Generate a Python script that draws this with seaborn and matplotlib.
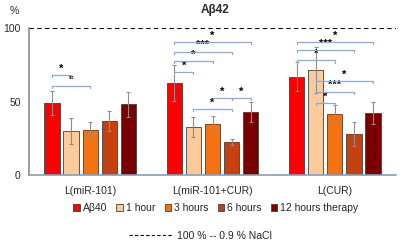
import numpy as np
import pandas as pd
import seaborn as sns
import matplotlib.pyplot as plt
from matplotlib.lines import Line2D
from matplotlib.patches import Patch

# data
groups = ["L(miR-101)", "L(miR-101+CUR)", "L(CUR)"]
series = ["Aβ40", "1 hour", "3 hours", "6 hours", "12 hours therapy"]
colors = ["#FF0000", "#FBCB9B", "#F57213", "#C6410F", "#7A0000"]

abeta40 = [49, 62.6, 67]
hour1 = [30, 32.6, 71.4]
hour3 = [30.6, 35, 41.5]
hour6 = [36.7, 22.4, 28]
hour12 = [48, 43, 42.4]

err_abeta40 = [8, 12.4, 9.7]
err_hour1 = [9, 7, 15.6]
err_hour3 = [5.5, 5, 6]
err_hour6 = [7, 2.3, 8]
err_hour12 = [8.7, 7, 7.6]

# significance brackets: (group, bar a, bar b, height, label)
sig = [
    (0, 0, 1, 68, "*"), (0, 0, 2, 60.7, "*"),
    (1, 0, 4, 90.7, "*"), (1, 0, 3, 84, "***"), (1, 0, 2, 77.8, "*"),
    (1, 0, 1, 70.3, "*"), (1, 2, 3, 52.6, "*"), (1, 3, 4, 52.6, "*"),
    (1, 1, 3, 45, "*"),
    (2, 0, 4, 90.7, "*"), (2, 0, 3, 85, "***"), (2, 0, 2, 78, "*"),
    (2, 1, 4, 64, "*"), (2, 1, 3, 56.7, "***"), (2, 1, 2, 49, "*"),
]

vals = [abeta40, hour1, hour3, hour6, hour12]
errs = [err_abeta40, err_hour1, err_hour3, err_hour6, err_hour12]

rows = []
for s, v in zip(series, vals):
    for g, x in zip(groups, v):
        rows.append({"group": g, "series": s, "value": x})
df = pd.DataFrame(rows)

sns.set_style("white")
plt.rcParams["font.family"] = ["Liberation Sans", "DejaVu Sans"]

fig = plt.figure(figsize=(4, 2.44), dpi=100)
ax = fig.add_axes([0.0725, 0.283, 0.9175, 0.602])

sns.barplot(data=df, x="group", y="value", hue="series", palette=colors,
            saturation=1, width=0.78, gap=0.2, edgecolor="#404040",
            linewidth=0.6, legend=False, ax=ax)

# error bars
centers = []
for cont, e in zip(ax.containers, errs):
    xs = [p.get_x() + p.get_width() / 2 for p in cont.patches]
    hs = [p.get_height() for p in cont.patches]
    centers.append(xs)
    ax.errorbar(xs, hs, yerr=e, fmt="none", ecolor="#8c8c8c",
                elinewidth=0.8, capsize=1.5, capthick=0.8, zorder=3)

# significance brackets
bc = "#8EA9D6"
for g, a, b, h, lab in sig:
    x1 = centers[a][g]
    x2 = centers[b][g]
    ax.plot([x1, x1, x2, x2], [h - 1.5, h, h, h - 1.5], color=bc, lw=0.9,
            zorder=4)
    ax.text((x1 + x2) / 2, h + 0.9, lab, ha="center", va="bottom",
            fontsize=8, fontweight="bold", color="black")

ax.axhline(100, color="black", ls=(0, (4, 3)), lw=0.8)
ax.set_xlim(-0.5, 2.5)
ax.set_ylim(0, 100)
ax.set_yticks([0, 50, 100])
ax.tick_params(axis="both", length=0, labelsize=7.5)
ax.tick_params(axis="x", pad=8)
ax.tick_params(axis="y", pad=6)
ax.set_xlabel("")
ax.set_ylabel("")
for sp in ["top", "right"]:
    ax.spines[sp].set_visible(False)
ax.spines["left"].set_color("#8c8c8c")
ax.spines["bottom"].set_color("#8c9cb0")
ax.spines["left"].set_linewidth(1.2)
ax.spines["bottom"].set_linewidth(1.2)

fig.text(0.538, 0.96, "Aβ42", ha="center", va="center", fontsize=8.5,
         fontweight="bold")
fig.text(0.035, 0.955, "%", ha="center", va="center", fontsize=7.5)

handles = [Patch(facecolor=c, edgecolor="#404040", linewidth=0.6) for c in colors]
fig.legend(handles, series, loc="center", bbox_to_anchor=(0.54, 0.147),
           ncol=5, frameon=False, fontsize=7.5, handlelength=0.6,
           handleheight=0.6, handletextpad=0.3, columnspacing=0.9,
           borderaxespad=0)

line_h = [Line2D([0], [0], color="black", ls=(0, (3, 2)), lw=0.8)]
fig.legend(line_h, ["100 % -- 0.9 % NaCl"], loc="center",
           bbox_to_anchor=(0.5, 0.033), frameon=False, fontsize=7.5,
           handlelength=4.2, handletextpad=0.4, borderaxespad=0)

fig.savefig("out.png", dpi=100)
